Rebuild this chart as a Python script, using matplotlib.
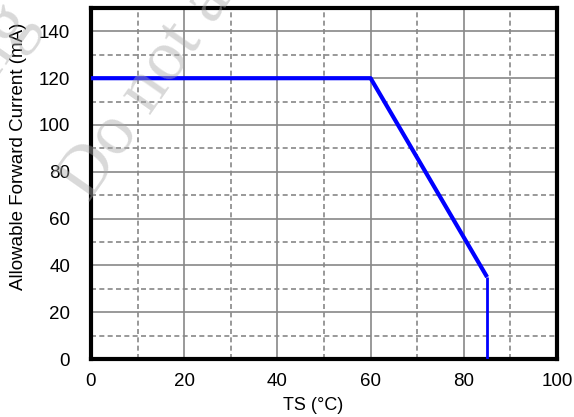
import matplotlib.pyplot as plt
import numpy as np

plt.rcParams['font.family'] = 'Liberation Sans'
plt.rcParams['font.size'] = 13

# derating curve
ts = [0, 60, 85, 85]
current = [120, 120, 35, 0]

x_major = np.arange(0, 101, 20)
y_major = np.arange(0, 141, 20)
x_minor = np.arange(10, 100, 20)
y_minor = np.arange(10, 150, 20)

fig = plt.figure(figsize=(5.74, 4.17), dpi=100)
ax = fig.add_axes([91 / 574, 1 - 359 / 417, 466 / 574, 351 / 417])

ax.set_xlim(0, 100)
ax.set_ylim(0, 150)
ax.set_xticks(x_major)
ax.set_yticks(y_major)
ax.set_xticks(x_minor, minor=True)
ax.set_yticks(y_minor, minor=True)
ax.tick_params(which='both', length=0, labelsize=13.5)
ax.tick_params(axis='x', pad=10)
ax.tick_params(axis='y', pad=15)

ax.grid(which='major', color='#888888', linestyle='-', linewidth=1.2)
ax.grid(which='minor', color='#888888', linestyle=(0, (3, 2)), linewidth=1.2)
ax.set_axisbelow(True)

for s in ax.spines.values():
    s.set_linewidth(3)

ax.plot(ts[:3], current[:3], color='#0000ff', linewidth=3, solid_capstyle='butt', zorder=3)
ax.plot(ts[2:], current[2:], color='#0000ff', linewidth=2, solid_capstyle='butt', zorder=3)

fig.text(313 / 574, 1 - 405 / 417, 'TS (°C)', fontsize=13, ha='center', va='center')
fig.text(19 / 574, 1 - 156 / 417, 'Allowable Forward Current (mA)', fontsize=13.5,
         rotation=90, ha='center', va='center')

# watermark
fig.text(89 / 574, 1 - 203 / 417, 'Do not alter', fontsize=52, family='Liberation Serif',
         color='#aaaaaa', alpha=0.45, rotation=55, rotation_mode='anchor',
         ha='left', va='baseline', zorder=10)
fig.text(36 / 574, 1 - 21 / 417, 'ing', fontsize=52, family='Liberation Serif',
         color='#aaaaaa', alpha=0.45, rotation=55, rotation_mode='anchor',
         ha='right', va='baseline', zorder=10)

fig.savefig('out.png', dpi=100)
